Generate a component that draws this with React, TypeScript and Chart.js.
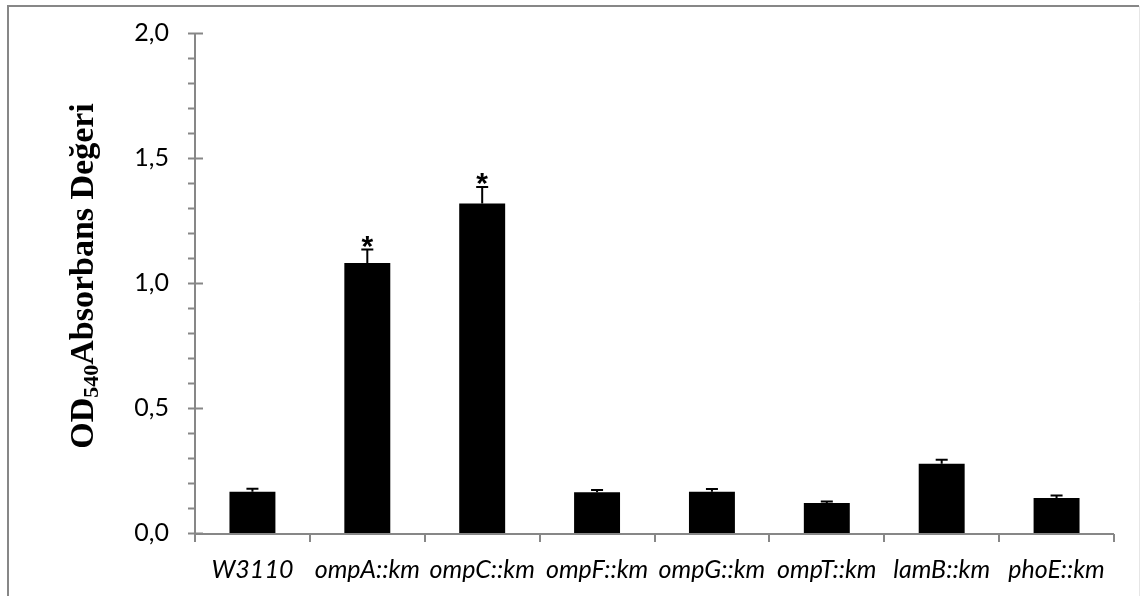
import React, { useEffect, useRef } from "react";
import { Chart, registerables } from "chart.js";

Chart.register(...registerables);

const categories = ["W3110", "ompA::km", "ompC::km", "ompF::km", "ompG::km", "ompT::km", "lamB::km", "phoE::km"];
const values = [0.165, 1.08, 1.318, 0.163, 0.165, 0.12, 0.277, 0.14];
const errors = [0.012, 0.054, 0.066, 0.009, 0.011, 0.006, 0.016, 0.01];
const significant = [false, true, true, false, false, false, false, false];
const yMin = 0;
const yMax = 2;
const yMajorStep = 0.5;
const yMinorStep = 0.1;
const yTitleMain = "OD";
const yTitleSub = "540";
const yTitleRest = "Absorbans Değeri";

const AXIS_GRAY = "#878787";

const decorPlugin = {
  id: "decor",
  beforeDraw(chart: any) {
    const { ctx, width } = chart;
    ctx.save();
    ctx.fillStyle = "#fff";
    ctx.fillRect(0, 0, width, chart.height);
    ctx.strokeStyle = AXIS_GRAY;
    ctx.lineWidth = 2;
    ctx.beginPath();
    ctx.moveTo(8, 700);
    ctx.lineTo(8, 6);
    ctx.lineTo(1139, 6);
    ctx.stroke();
    ctx.strokeStyle = "#e6e6e6";
    ctx.lineWidth = 1;
    ctx.beginPath();
    ctx.moveTo(1139.5, 6);
    ctx.lineTo(1139.5, 700);
    ctx.stroke();
    ctx.restore();
  },
  afterDraw(chart: any) {
    const { ctx, scales } = chart;
    const x = scales.x;
    const y = scales.y;
    const area = chart.chartArea;
    ctx.save();
    // axis lines
    ctx.strokeStyle = AXIS_GRAY;
    ctx.lineWidth = 2;
    ctx.beginPath();
    ctx.moveTo(area.left, y.getPixelForValue(yMax));
    ctx.lineTo(area.left, y.getPixelForValue(yMin) + 1);
    ctx.lineTo(area.right, y.getPixelForValue(yMin) + 1);
    ctx.stroke();
    // y ticks
    const nMinor = Math.round((yMax - yMin) / yMinorStep);
    for (let i = 0; i <= nMinor; i++) {
      const v = yMin + i * yMinorStep;
      const py = Math.round(y.getPixelForValue(v)) + 0.5;
      const major = Math.abs(v / yMajorStep - Math.round(v / yMajorStep)) < 1e-6;
      ctx.beginPath();
      ctx.moveTo(area.left - 7, py);
      ctx.lineTo(area.left + (major ? 8 : 0), py);
      ctx.stroke();
    }
    // x ticks at category boundaries
    const bottom = y.getPixelForValue(yMin) + 1;
    for (let i = 0; i <= categories.length; i++) {
      const px =
        i < categories.length
          ? x.getPixelForValue(i) - (x.getPixelForValue(1) - x.getPixelForValue(0)) / 2
          : area.right;
      ctx.beginPath();
      ctx.moveTo(Math.round(px), bottom);
      ctx.lineTo(Math.round(px), bottom + 8);
      ctx.stroke();
    }
    // error bars and asterisks
    const meta = chart.getDatasetMeta(0);
    ctx.strokeStyle = "#000";
    ctx.fillStyle = "#000";
    ctx.lineWidth = 2;
    meta.data.forEach((bar: any, i: number) => {
      const top = y.getPixelForValue(values[i]);
      const errTop = y.getPixelForValue(values[i] + errors[i]);
      ctx.beginPath();
      ctx.moveTo(bar.x, top);
      ctx.lineTo(bar.x, errTop);
      ctx.moveTo(bar.x - 6, errTop);
      ctx.lineTo(bar.x + 6, errTop);
      ctx.stroke();
      if (significant[i]) {
        ctx.font = "bold 30px 'Liberation Sans'";
        ctx.textAlign = "center";
        ctx.textBaseline = "alphabetic";
        ctx.fillText("*", bar.x, errTop + 6);
      }
    });
    // y title with subscript
    ctx.translate(84, 276);
    ctx.rotate(-Math.PI / 2);
    ctx.textBaseline = "middle";
    ctx.textAlign = "left";
    const mainFont = "bold 34px 'Liberation Serif'";
    const subFont = "bold 22px 'Liberation Serif'";
    ctx.font = mainFont;
    const w1 = ctx.measureText(yTitleMain).width;
    ctx.font = subFont;
    const w2 = ctx.measureText(yTitleSub).width;
    ctx.font = mainFont;
    const w3 = ctx.measureText(yTitleRest).width;
    const total = w1 + w2 + w3;
    let cx = -total / 2;
    ctx.fillStyle = "#000";
    ctx.fillText(yTitleMain, cx, 0);
    cx += w1;
    ctx.font = subFont;
    ctx.fillText(yTitleSub, cx, 8);
    cx += w2;
    ctx.font = mainFont;
    ctx.fillText(yTitleRest, cx, 0);
    ctx.restore();
  },
};

export default function App() {
  const ref = useRef<HTMLCanvasElement | null>(null);
  useEffect(() => {
    document.body.style.margin = "0";
    if (!ref.current) return;
    const chart = new Chart(ref.current, {
      type: "bar",
      data: {
        labels: categories,
        datasets: [
          {
            data: values,
            backgroundColor: "#000",
            borderWidth: 0,
            barPercentage: 0.4,
            categoryPercentage: 1,
          },
        ],
      },
      options: {
        responsive: false,
        animation: false,
        devicePixelRatio: 1,
        layout: { padding: { left: 0, top: 33, right: 27, bottom: 0 } },
        plugins: { legend: { display: false }, tooltip: { enabled: false }, title: { display: false } },
        scales: {
          x: {
            grid: { display: false },
            border: { display: false },
            ticks: {
              color: "#000",
              font: { family: "Lato", size: 25, style: "italic" },
              padding: 14,
              maxRotation: 0,
              autoSkip: false,
            },
            afterFit: (s: any) => {
              s.height = 63;
            },
          },
          y: {
            min: yMin,
            max: yMax,
            grid: { display: false },
            border: { display: false },
            ticks: {
              stepSize: yMajorStep,
              color: "#000",
              font: { family: "Lato", size: 25 },
              padding: 18,
              callback: (v: any) => Number(v).toFixed(1).replace(".", ","),
            },
            afterFit: (s: any) => {
              s.width = 195;
            },
          },
        },
      },
      plugins: [decorPlugin],
    });
    return () => chart.destroy();
  }, []);
  return <canvas ref={ref} width={1141} height={596} style={{ display: "block" }} />;
}
